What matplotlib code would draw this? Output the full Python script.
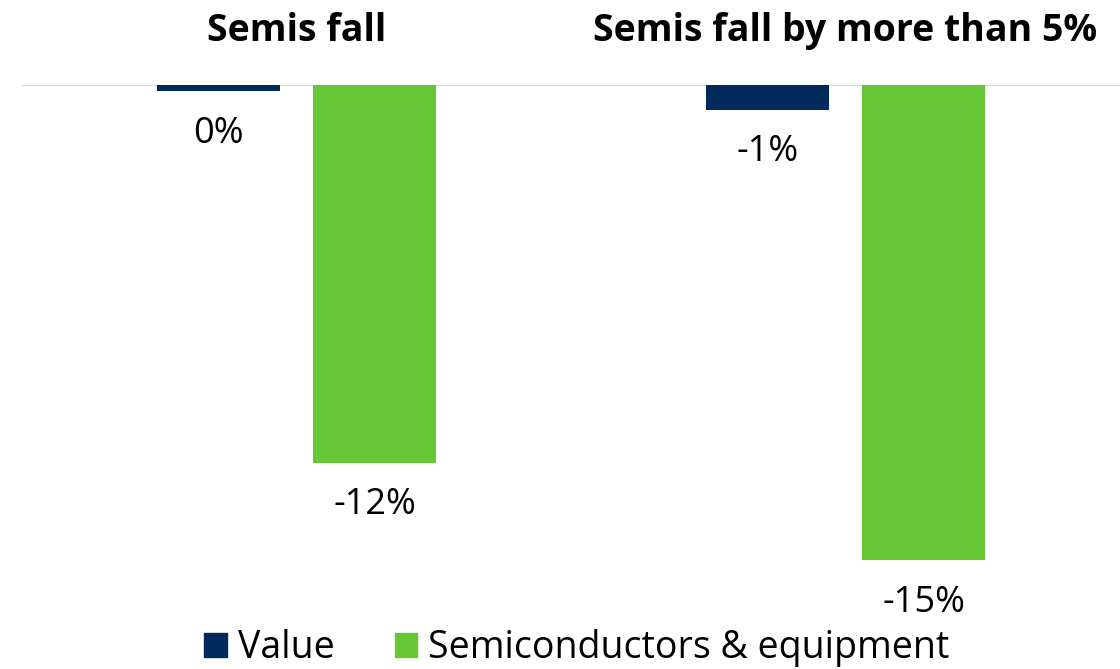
import matplotlib
matplotlib.use("Agg")
import matplotlib.pyplot as plt
from matplotlib.patches import Patch
import numpy as np

plt.rcParams['font.family'] = ['Open Sans', 'DejaVu Sans']

# 資料
categories = ['Semis fall', 'Semis fall by more than 5%']
value = [-0.2, -0.8]
semis = [-12.0, -15.1]
value_labels = ['0%', '-1%']
semis_labels = ['-12%', '-15%']

navy = '#002a5c'
green = '#66c633'

fig = plt.figure(figsize=(11.2, 6.69), dpi=100)
ax = fig.add_axes([22 / 1120, 1 - 620 / 669, 1 - 22 / 1120, (620 - 85) / 669])

x = np.array([0.5, 1.5])
w = 0.224
off = 0.1425

ax.bar(x - off, value, width=w, color=navy)
ax.bar(x + off, semis, width=w, color=green)

ax.set_xlim(0, 2)
ax.set_ylim(-17.0, 0)

# 數值標籤
for i in range(len(x)):
    ax.annotate(value_labels[i], (x[i] - off, value[i]), xytext=(0, -17.5),
                textcoords='offset points', ha='center', va='top', fontsize=26,
                annotation_clip=False)
    ax.annotate(semis_labels[i], (x[i] + off, semis[i]), xytext=(0, -17.5),
                textcoords='offset points', ha='center', va='top', fontsize=26,
                annotation_clip=False)

# 類別標題
for i in range(len(x)):
    ax.annotate(categories[i], (x[i], 0), xytext=(0, 31.5), textcoords='offset points',
                ha='center', va='baseline', fontsize=27, fontweight='bold',
                annotation_clip=False)

ax.axhline(0, color='#d9d9d9', lw=1.5, zorder=0)
for s in ax.spines.values():
    s.set_visible(False)
ax.set_xticks([])
ax.set_yticks([])

handles = [Patch(color=navy, label='Value'),
           Patch(color=green, label='Semiconductors & equipment')]
fig.legend(handles=handles, loc='center', bbox_to_anchor=(577 / 1120, 1 - 648 / 669),
           ncol=2, frameon=False, fontsize=27, handlelength=0.6, handleheight=0.6,
           handletextpad=0.3, columnspacing=1.6, borderpad=0)

fig.savefig('out.png', dpi=100)
